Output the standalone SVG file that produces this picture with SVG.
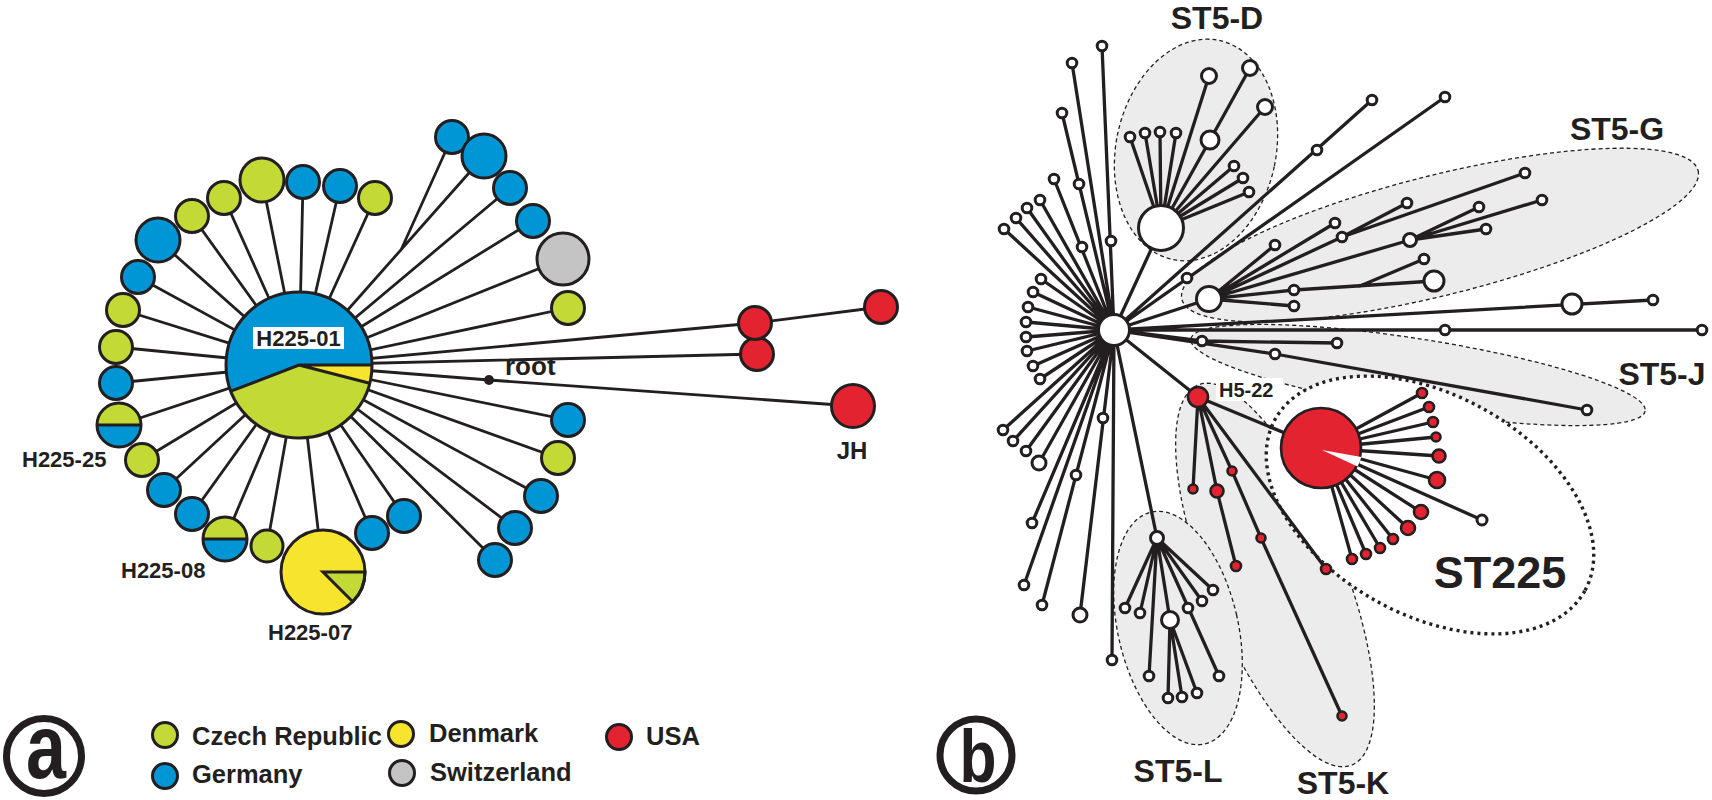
<svg xmlns="http://www.w3.org/2000/svg" width="1712" height="800" viewBox="0 0 1712 800">
<style>
.la{stroke:#231f20;stroke-width:2.8;fill:none;stroke-linecap:round}
.lb{stroke:#231f20;stroke-width:3.3;fill:none;stroke-linecap:round;stroke-linejoin:round}
.na{stroke:#231f20;stroke-width:3}
.nb{stroke:#231f20;stroke-width:3;fill:#fff}
.nr{stroke:#231f20;stroke-width:2.6;fill:#e42330}
.bl{fill:#0096d6}.gr{fill:#c3d935}.ye{fill:#f6e52c}.gy{fill:#c4c4c4}.rd{fill:#e42330}.wh{fill:#fff}
.cl{fill:#ececec;stroke:#231f20;stroke-width:1.3;stroke-dasharray:4 3}
.st{fill:#fff;stroke:#231f20;stroke-width:3.4;stroke-dasharray:3 4}
.t{font-family:"Liberation Sans",Arial,sans-serif;font-weight:bold;fill:#231f20}
</style>
<rect width="1712" height="800" fill="#fff"/>

<!-- ===== Panel a ===== -->
<g id="a-connectors">
<path class="la" d="M299,365L484,156M401,250L452,137M299,365L510,188M299,365L533,221M299,365L563,259M299,365L568,308M299,365L755,323M299,365L757,354M755,323L881,307M299,365L489,380L853,406M299,365L568,420M299,365L558,458M299,365L541,496M299,365L515,528M299,365L495,560M299,365L404,516M299,365L372,533M299,365L323,572M299,365L267,546M299,365L225,539M299,365L192,514M299,365L164,490M299,365L142,460M299,365L119,425M299,365L116,383M299,365L116,347M299,365L123,310M299,365L138,277M299,365L158,240M299,365L192,216M299,365L224,198M299,365L262,180M299,365L303,182M299,365L340,186M299,365L375,198"/>
</g>
<g id="a-nodes">
<circle class="na bl" cx="452" cy="137" r="16.5"/>
<circle class="na bl" cx="484" cy="156" r="22"/>
<circle class="na bl" cx="510" cy="188" r="16.5"/>
<circle class="na bl" cx="533" cy="221" r="16.5"/>
<circle class="na gy" cx="563" cy="259" r="26"/>
<circle class="na gr" cx="568" cy="308" r="16.5"/>
<circle class="na rd" cx="757" cy="354" r="16.5"/>
<circle class="na rd" cx="755" cy="323" r="16.5"/>
<circle class="na rd" cx="881" cy="307" r="16.5"/>
<circle class="na rd" cx="853" cy="406" r="21.5"/>
<circle fill="#231f20" cx="489" cy="380" r="5"/>
<circle class="na bl" cx="568" cy="420" r="16.5"/>
<circle class="na gr" cx="558" cy="458" r="16.5"/>
<circle class="na bl" cx="541" cy="496" r="16.5"/>
<circle class="na bl" cx="515" cy="528" r="16.5"/>
<circle class="na bl" cx="495" cy="560" r="16.5"/>
<circle class="na bl" cx="404" cy="516" r="16.5"/>
<circle class="na bl" cx="372" cy="533" r="16.5"/>
<g id="h225-07"><circle class="ye" cx="323" cy="572" r="42"/><path class="na gr" d="M323,572L365,572A42,42 0 0 1 352.7,601.7Z"/><circle class="na" fill="none" cx="323" cy="572" r="42"/></g>
<circle class="na gr" cx="267" cy="546" r="16"/>
<g id="h225-08"><path class="gr" d="M203,539A22,22 0 0 1 247,539Z"/><path class="bl" d="M247,539A22,22 0 0 1 203,539Z"/><path class="na" d="M203,539H247"/><circle class="na" fill="none" cx="225" cy="539" r="22"/></g>
<circle class="na bl" cx="192" cy="514" r="16.5"/>
<circle class="na bl" cx="164" cy="490" r="16.5"/>
<circle class="na gr" cx="142" cy="460" r="16.5"/>
<g id="h225-25"><path class="gr" d="M97,425A22,22 0 0 1 141,425Z"/><path class="bl" d="M141,425A22,22 0 0 1 97,425Z"/><path class="na" d="M97,425H141"/><circle class="na" fill="none" cx="119" cy="425" r="22"/></g>
<circle class="na bl" cx="116" cy="383" r="16.5"/>
<circle class="na gr" cx="116" cy="347" r="16.5"/>
<circle class="na gr" cx="123" cy="310" r="16.5"/>
<circle class="na bl" cx="138" cy="277" r="16.5"/>
<circle class="na bl" cx="158" cy="240" r="22"/>
<circle class="na gr" cx="192" cy="216" r="16.5"/>
<circle class="na gr" cx="224" cy="198" r="16.5"/>
<circle class="na gr" cx="262" cy="180" r="22"/>
<circle class="na bl" cx="303" cy="182" r="16.5"/>
<circle class="na bl" cx="340" cy="186" r="16.5"/>
<circle class="na gr" cx="375" cy="198" r="16.5"/>
<g id="h225-01">
<path class="bl" d="M299,365L230.9,391.2A73,73 0 1 1 372,365Z"/>
<path class="ye" d="M299,365L372,365A73,73 0 0 1 369.7,383.2Z"/>
<path class="gr" d="M299,365L369.7,383.2A73,73 0 0 1 230.9,391.2Z"/>
<path class="na" fill="none" d="M230.9,391.2L299,365L372,365M299,365L369.7,383.2"/>
<circle class="na" fill="none" cx="299" cy="365" r="73"/>
<rect x="253" y="327" width="91" height="22" fill="#fff"/>
<text class="t" x="298.5" y="346" font-size="22" text-anchor="middle">H225-01</text>
</g>
</g>
<g id="a-labels">
<text class="t" x="505" y="375" font-size="26">root</text>
<text class="t" x="852" y="459" font-size="24" text-anchor="middle">JH</text>
<text class="t" x="22" y="467" font-size="22">H225-25</text>
<text class="t" x="121" y="578" font-size="22">H225-08</text>
<text class="t" x="268" y="640" font-size="22">H225-07</text>
</g>
<g id="legend">
<circle cx="44" cy="756" r="37.5" fill="none" stroke="#231f20" stroke-width="7"/>
<text class="t" x="46" y="778" font-size="90" text-anchor="middle" textLength="40" lengthAdjust="spacingAndGlyphs">a</text>
<circle class="na gr" cx="165" cy="735" r="12.5"/>
<text class="t" x="192" y="745" font-size="25.5">Czech Republic</text>
<circle class="na bl" cx="165" cy="776" r="12.5"/>
<text class="t" x="192" y="783" font-size="25.5">Germany</text>
<circle class="na ye" cx="401" cy="734" r="12.5"/>
<text class="t" x="429" y="742" font-size="25.5">Denmark</text>
<circle class="na gy" cx="402" cy="773" r="12.5"/>
<text class="t" x="430" y="781" font-size="25.5">Switzerland</text>
<circle class="na rd" cx="619" cy="737" r="12.5"/>
<text class="t" x="646" y="745" font-size="25.5">USA</text>
</g>

<!-- ===== Panel b ===== -->
<g id="clusters">
<ellipse id="st5-d" class="cl" cx="1196" cy="150" rx="80" ry="112" transform="rotate(12 1196 150)"/>
<ellipse id="st5-g" class="cl" cx="1440" cy="235" rx="266" ry="60" transform="rotate(-14 1440 235)"/>
<ellipse id="st5-j" class="cl" cx="1418" cy="375" rx="230" ry="36" transform="rotate(9 1418 375)"/>
<ellipse id="st5-k" class="cl" cx="1275" cy="575" rx="68" ry="205" transform="rotate(-22 1275 575)"/>
<ellipse id="st5-l" class="cl" cx="1178" cy="628" rx="60" ry="119" transform="rotate(-13 1178 628)"/>
<ellipse id="st225" class="st" cx="1430" cy="505" rx="177" ry="110" transform="rotate(29 1430 505)"/>
</g>
<g id="b-connectors">
<path class="lb" d="M1114,330L1102,46M1114,330L1072,63M1114,330L1062,113M1114,330L1054,179M1114,330L1040,200M1114,330L1027,208M1114,330L1016,218M1114,330L1004,229M1114,330L1041,279M1114,330L1033,292M1114,330L1028,307M1114,330L1026,322M1114,330L1026,337M1114,330L1027,351M1114,330L1033,366M1114,330L1040,379M1114,330L1003,430M1114,330L1013,441M1114,330L1026,451M1114,330L1039,463M1114,330L1080,615M1114,330L1042,605M1114,330L1032,523M1114,330L1024,585M1114,330L1112,660M1114,330L1157,538M1114,330L1198,397M1114,330L1161,228M1114,330L1445,97M1114,330L1372,100M1114,330L1209,299M1114,330L1653,300M1114,330L1702,330M1114,330L1202,341L1337,343M1114,330L1275,354L1587,410"/>
<path class="lb" d="M1161,228L1130,137M1161,228L1145,133M1161,228L1160,132M1161,228L1176,133M1161,228L1209,76M1161,228L1210,140L1250,68M1161,228L1265,107M1161,228L1234,166M1161,228L1243,178M1161,228L1249,192"/>
<path class="lb" d="M1209,299L1275,245M1209,299L1335,223M1209,299L1342,237L1407,203M1342,237L1525,173M1209,299L1410,240L1479,207M1410,240L1486,229M1410,240L1542,200M1209,299L1294,290L1434,281M1360,286L1424,259M1209,299L1294,306"/>
<path class="lb" d="M1198,397L1193,489M1198,397L1217,491L1236,566M1198,397L1232,471L1261,538L1342,716M1198,397L1326,569M1198,397L1321,448"/>
<path class="lb" d="M1321,448L1422,393M1321,448L1429,407M1321,448L1433,422M1321,448L1436,437M1321,448L1439,456M1321,448L1437,480M1321,448L1421,512M1321,448L1408,528M1321,448L1393,539M1321,448L1380,548M1321,448L1366,554M1321,448L1352,559M1321,448L1482,520"/>
<path class="lb" d="M1157,538L1125,608M1157,538L1140,613M1157,538L1170,620M1157,538L1219,676M1157,538L1202,601M1157,538L1213,590M1157,538L1149,676M1170,620L1168,698M1170,620L1182,697M1170,620L1197,693"/>
</g>
<g id="b-nodes">
<circle class="nb" cx="1102" cy="46" r="4.8"/>
<circle class="nb" cx="1111" cy="241" r="4.8"/>
<circle class="nb" cx="1072" cy="63" r="4.8"/>
<circle class="nb" cx="1062" cy="113" r="4.8"/>
<circle class="nb" cx="1079" cy="184" r="4.8"/>
<circle class="nb" cx="1054" cy="179" r="4.8"/>
<circle class="nb" cx="1082" cy="247" r="4.8"/>
<circle class="nb" cx="1040" cy="200" r="4.8"/>
<circle class="nb" cx="1027" cy="208" r="4.8"/>
<circle class="nb" cx="1016" cy="218" r="4.8"/>
<circle class="nb" cx="1004" cy="229" r="4.8"/>
<circle class="nb" cx="1041" cy="279" r="4.8"/>
<circle class="nb" cx="1033" cy="292" r="4.8"/>
<circle class="nb" cx="1028" cy="307" r="4.8"/>
<circle class="nb" cx="1026" cy="322" r="4.8"/>
<circle class="nb" cx="1026" cy="337" r="4.8"/>
<circle class="nb" cx="1027" cy="351" r="4.8"/>
<circle class="nb" cx="1033" cy="366" r="4.8"/>
<circle class="nb" cx="1040" cy="379" r="4.8"/>
<circle class="nb" cx="1003" cy="430" r="4.8"/>
<circle class="nb" cx="1013" cy="441" r="4.8"/>
<circle class="nb" cx="1026" cy="451" r="4.8"/>
<circle class="nb" cx="1039" cy="463" r="7"/>
<circle class="nb" cx="1103" cy="418" r="4.8"/>
<circle class="nb" cx="1080" cy="615" r="7"/>
<circle class="nb" cx="1076" cy="475" r="4.8"/>
<circle class="nb" cx="1042" cy="605" r="4.8"/>
<circle class="nb" cx="1032" cy="523" r="4.8"/>
<circle class="nb" cx="1024" cy="585" r="4.8"/>
<circle class="nb" cx="1112" cy="660" r="4.8"/>
<circle class="nb" cx="1187" cy="278" r="4.8"/>
<circle class="nb" cx="1445" cy="97" r="4.8"/>
<circle class="nb" cx="1317" cy="150" r="4.8"/>
<circle class="nb" cx="1372" cy="100" r="4.8"/>
<circle class="nb" cx="1572" cy="304" r="10"/>
<circle class="nb" cx="1653" cy="300" r="4.8"/>
<circle class="nb" cx="1445" cy="330" r="4.8"/>
<circle class="nb" cx="1702" cy="330" r="4.8"/>
<circle class="nb" cx="1202" cy="341" r="4.8"/>
<circle class="nb" cx="1337" cy="343" r="4.8"/>
<circle class="nb" cx="1275" cy="354" r="4.8"/>
<circle class="nb" cx="1587" cy="410" r="4.8"/>
<g id="st5-d-nodes">
<circle class="nb" cx="1130" cy="137" r="4.8"/>
<circle class="nb" cx="1145" cy="133" r="4.8"/>
<circle class="nb" cx="1160" cy="132" r="4.8"/>
<circle class="nb" cx="1176" cy="133" r="4.8"/>
<circle class="nb" cx="1209" cy="76" r="7.5"/>
<circle class="nb" cx="1210" cy="140" r="9"/>
<circle class="nb" cx="1250" cy="68" r="7.5"/>
<circle class="nb" cx="1265" cy="107" r="7.5"/>
<circle class="nb" cx="1234" cy="166" r="4.8"/>
<circle class="nb" cx="1243" cy="178" r="4.8"/>
<circle class="nb" cx="1249" cy="192" r="4.8"/>
<circle class="nb" cx="1161" cy="228" r="22.5"/>
</g>
<g id="st5-g-nodes">
<circle class="nb" cx="1275" cy="245" r="4.8"/>
<circle class="nb" cx="1335" cy="223" r="4.8"/>
<circle class="nb" cx="1342" cy="237" r="4.8"/>
<circle class="nb" cx="1407" cy="203" r="4.8"/>
<circle class="nb" cx="1525" cy="173" r="4.8"/>
<circle class="nb" cx="1410" cy="240" r="6.5"/>
<circle class="nb" cx="1479" cy="207" r="4.8"/>
<circle class="nb" cx="1486" cy="229" r="4.8"/>
<circle class="nb" cx="1542" cy="200" r="4.8"/>
<circle class="nb" cx="1294" cy="290" r="4.8"/>
<circle class="nb" cx="1424" cy="259" r="4.8"/>
<circle class="nb" cx="1434" cy="281" r="10"/>
<circle class="nb" cx="1294" cy="306" r="4.8"/>
<circle class="nb" cx="1209" cy="299" r="12.5"/>
</g>
<g id="st5-l-nodes">
<circle class="nb" cx="1157" cy="538" r="6.5"/>
<circle class="nb" cx="1125" cy="608" r="4.8"/>
<circle class="nb" cx="1140" cy="613" r="4.8"/>
<circle class="nb" cx="1170" cy="620" r="8.5"/>
<circle class="nb" cx="1188" cy="608" r="4.8"/>
<circle class="nb" cx="1202" cy="601" r="4.8"/>
<circle class="nb" cx="1213" cy="590" r="4.8"/>
<circle class="nb" cx="1149" cy="676" r="4.8"/>
<circle class="nb" cx="1219" cy="676" r="4.8"/>
<circle class="nb" cx="1168" cy="698" r="4.8"/>
<circle class="nb" cx="1182" cy="697" r="4.8"/>
<circle class="nb" cx="1197" cy="693" r="4.8"/>
</g>
<g id="st5-k-nodes">
<circle class="nr" cx="1193" cy="489" r="4.5"/>
<circle class="nr" cx="1217" cy="491" r="6.5"/>
<circle class="nr" cx="1236" cy="566" r="5"/>
<circle class="nr" cx="1232" cy="471" r="4.5"/>
<circle class="nr" cx="1261" cy="538" r="4.5"/>
<circle class="nr" cx="1342" cy="716" r="4.5"/>
<circle class="nr" cx="1326" cy="569" r="5"/>
<rect x="1216" y="378" width="67" height="23" fill="#fff"/>
<text class="t" x="1219" y="397" font-size="20">H5-22</text>
<circle class="nr" cx="1198" cy="397" r="10"/>
</g>
<g id="st225-nodes">
<circle class="nr" cx="1422" cy="393" r="5"/>
<circle class="nr" cx="1429" cy="407" r="5"/>
<circle class="nr" cx="1433" cy="422" r="5"/>
<circle class="nr" cx="1436" cy="437" r="4.5"/>
<circle class="nr" cx="1439" cy="456" r="6.5"/>
<circle class="nr" cx="1437" cy="480" r="8"/>
<circle class="nr" cx="1421" cy="512" r="7"/>
<circle class="nr" cx="1408" cy="528" r="7"/>
<circle class="nr" cx="1393" cy="539" r="5"/>
<circle class="nr" cx="1380" cy="548" r="5"/>
<circle class="nr" cx="1366" cy="554" r="5"/>
<circle class="nr" cx="1352" cy="559" r="5"/>
<circle class="nb" cx="1482" cy="520" r="5"/>
<circle class="nr" cx="1321" cy="448" r="40"/>
<path fill="#fff" d="M1322,450L1361.3,457A40,40 0 0 1 1357.5,466.5Z"/>
</g>
<circle id="center" class="nb" cx="1114" cy="330" r="15.5"/>
</g>
<g id="b-labels">
<text class="t" x="1217" y="29" font-size="32" text-anchor="middle">ST5-D</text>
<text class="t" x="1617" y="140" font-size="32" text-anchor="middle">ST5-G</text>
<text class="t" x="1662" y="385" font-size="32" text-anchor="middle">ST5-J</text>
<text class="t" x="1500" y="588" font-size="45" text-anchor="middle">ST225</text>
<text class="t" x="1178" y="782" font-size="32" text-anchor="middle">ST5-L</text>
<text class="t" x="1343" y="794" font-size="32" text-anchor="middle">ST5-K</text>
<circle cx="976" cy="755" r="36" fill="none" stroke="#231f20" stroke-width="7"/>
<text class="t" x="978" y="782" font-size="74" text-anchor="middle" textLength="37" lengthAdjust="spacingAndGlyphs">b</text>
</g>
</svg>
